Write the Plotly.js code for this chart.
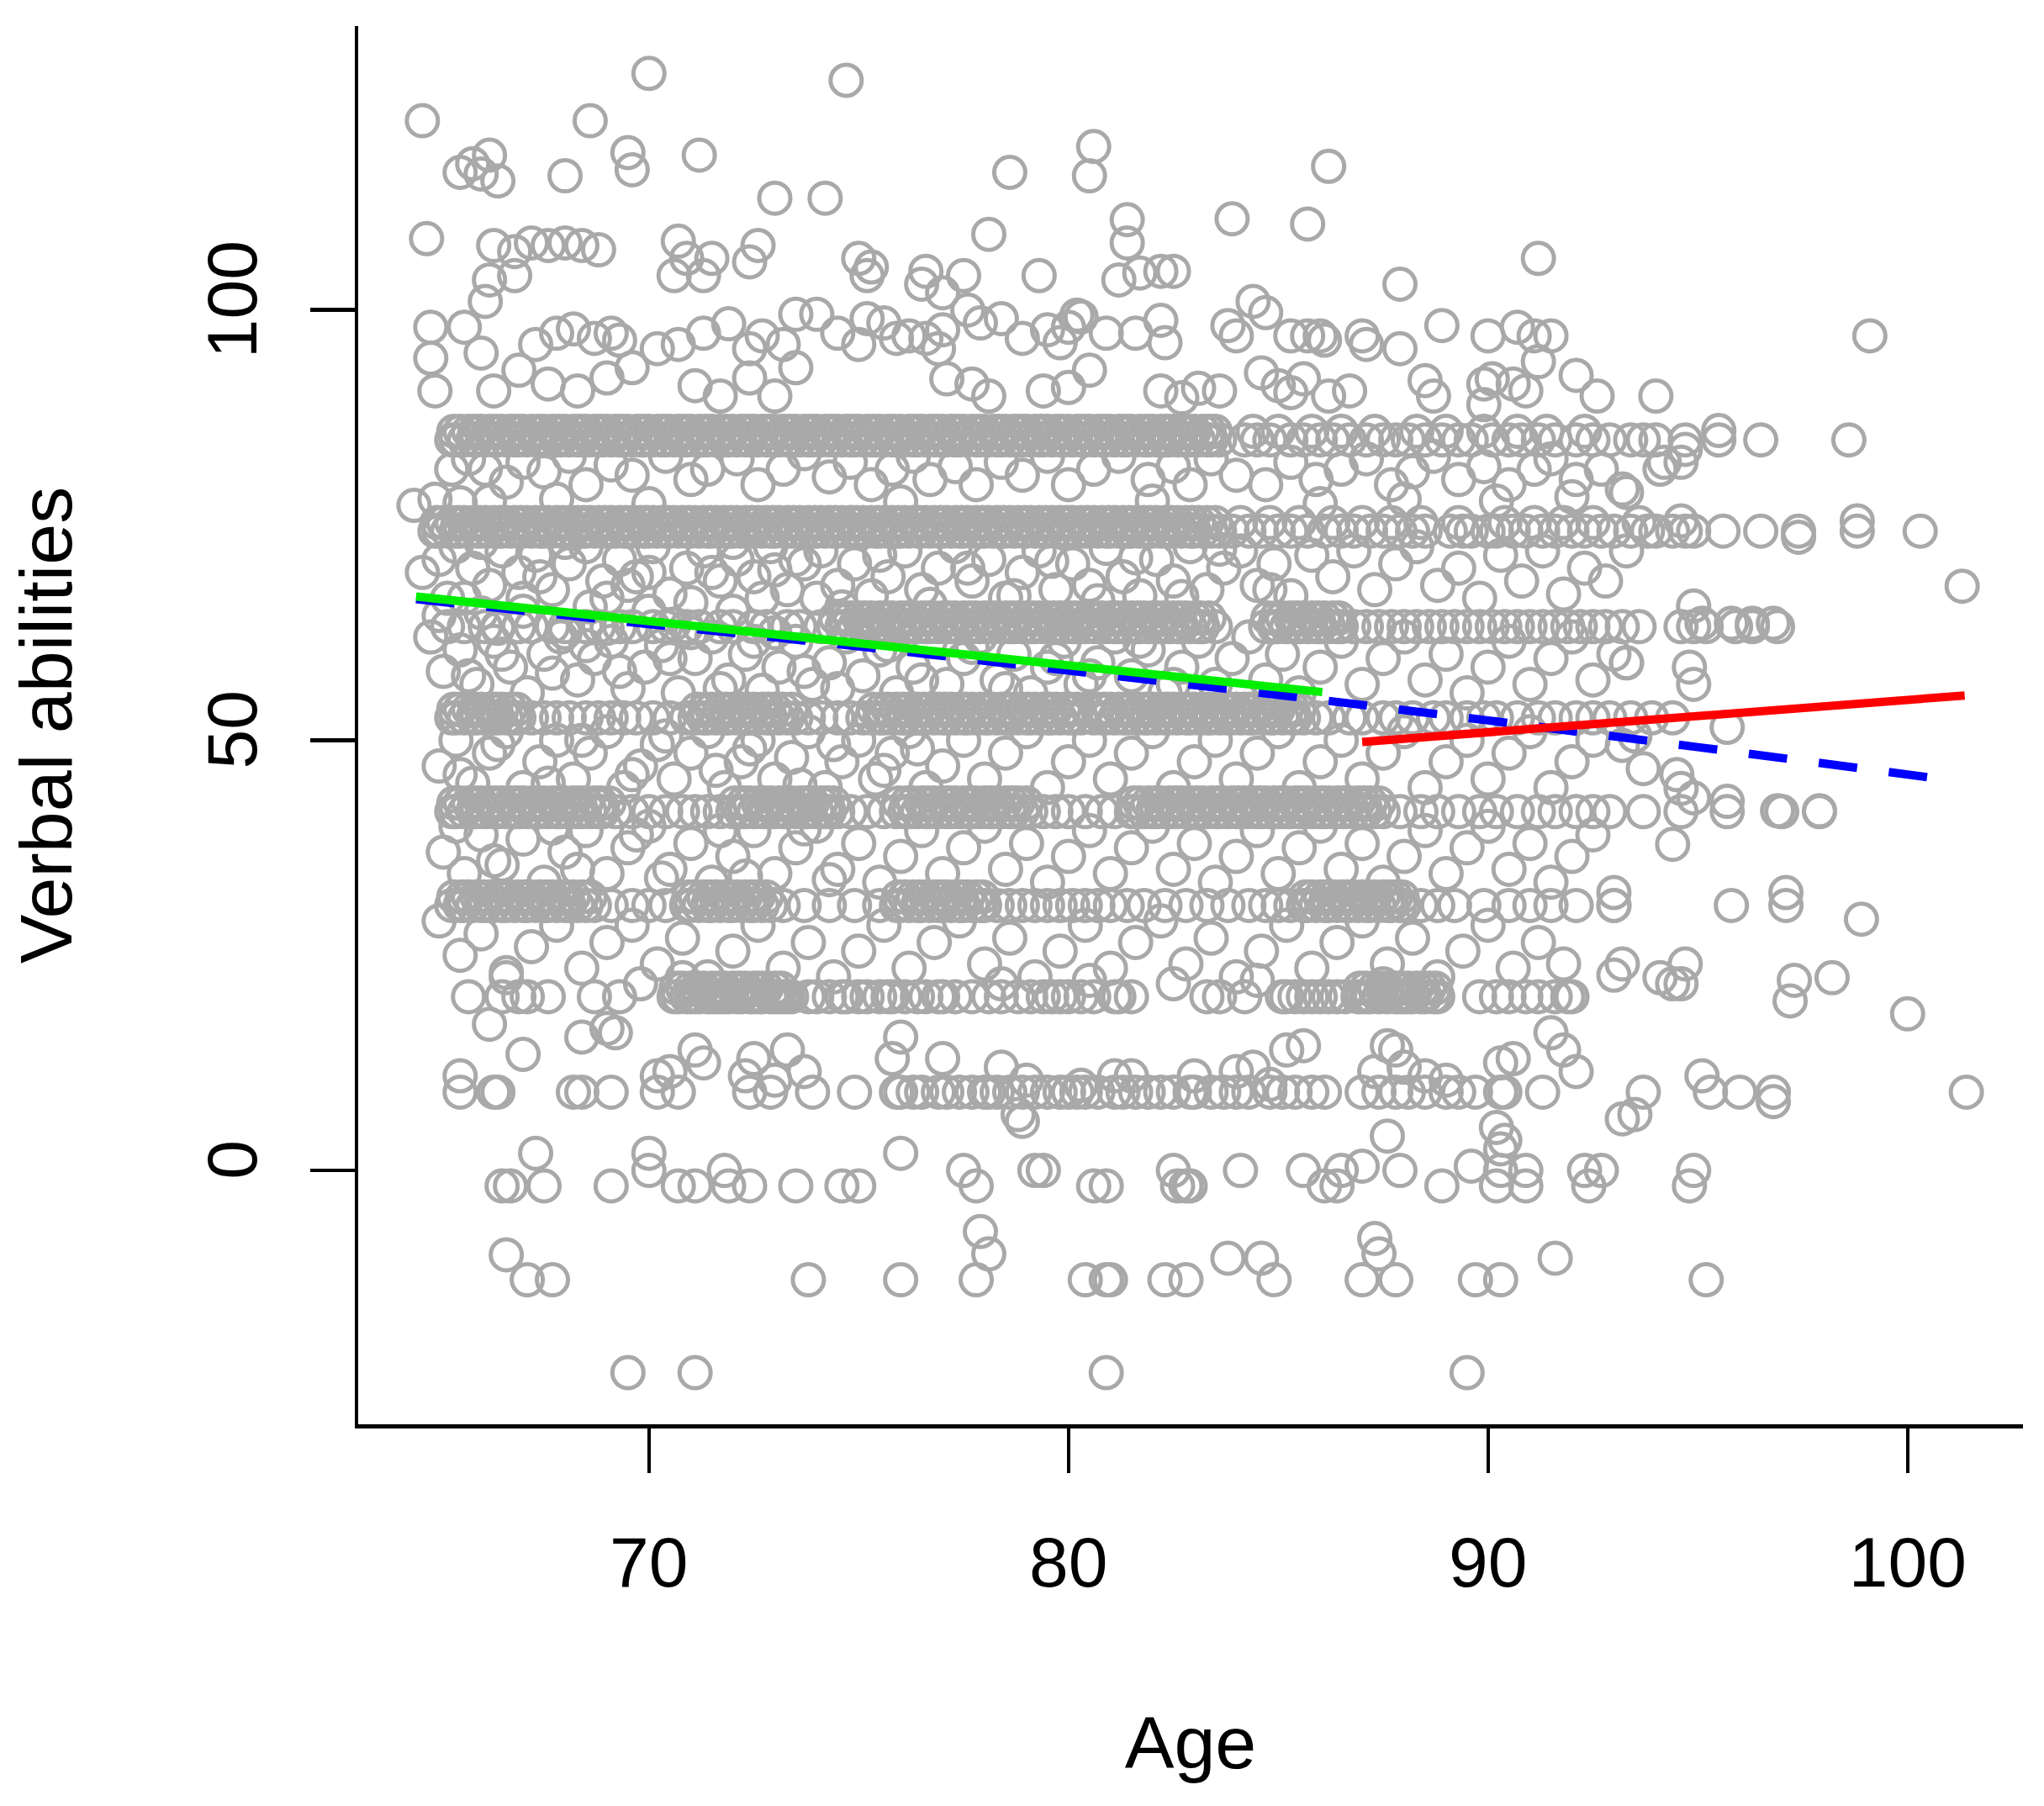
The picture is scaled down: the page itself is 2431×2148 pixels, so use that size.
<!DOCTYPE html>
<html>
<head>
<meta charset="utf-8">
<script src="https://cdn.plot.ly/plotly-3.0.1.min.js"></script>
<style>html,body{margin:0;padding:0;background:#fff;}#chart{width:2431px;height:2148px;}</style>
</head>
<body>
<div id="chart"></div>
<script>
// ---- data ----
const xTickVals = [70, 80, 90, 100];
const yTickVals = [0, 50, 100];

// score levels where many observations line up
const bandScores = [84.9, 74.3, 63.2, 52.6, 41.7, 30.8, 20.2, 9.1, -1.8, -12.7, -23.5];
// the crowded levels are about one point thick: a second, slightly higher sub-level
const bandUpperScores = [85.9, 75.3, 64.2, 53.6, 42.7, 31.8, 21.2];

const band85Ages = [65.3,65.4,65.6,65.8,65.9,66.1,66.3,66.4,66.6,66.8,66.9,67.1,67.3,67.4,67.6,67.8,67.9,68.1,68.3,68.4,68.6,68.8,68.9,69.1,69.3,69.4,69.6,69.8,69.9,70.1,70.3,70.4,70.6,70.8,70.9,71.1,71.3,71.4,71.6,71.8,71.9,72.1,72.3,72.4,72.6,72.8,72.9,73.1,73.3,73.4,73.6,73.8,73.9,74.1,74.3,74.4,74.6,74.8,74.9,75.1,75.3,75.4,75.6,75.8,75.9,76.1,76.3,76.4,76.6,76.8,76.9,77.1,77.3,77.4,77.6,77.8,77.9,78.1,78.3,78.4,78.6,78.8,78.9,79.1,79.3,79.4,79.6,79.8,79.9,80.1,80.3,80.4,80.6,80.8,80.9,81.1,81.3,81.4,81.6,81.8,81.9,82.1,82.3,82.4,82.6,82.8,82.9,83.1,83.3,83.4,83.6,
  84.2,84.5,84.8,85.3,85.6,86.0,86.3,86.7,87.1,87.5,87.8,88.1,88.5,88.9,89.3,89.6,90.1,90.5,90.8,91.2,91.6,92.1,92.5,92.9,93.4,93.7,94.0,94.7,95.5,96.5,98.6];
const band85UpperAges = [65.35,65.5,65.7,65.85,66.0,66.2,66.35,66.5,66.7,66.85,67.0,67.2,67.35,67.5,67.7,67.85,68.0,68.2,68.35,68.5,68.7,68.85,69.0,69.2,69.35,69.5,69.7,69.85,70.0,70.2,70.35,70.5,70.7,70.85,71.0,71.2,71.35,71.5,71.7,71.85,72.0,72.2,72.35,72.5,72.7,72.85,73.0,73.2,73.35,73.5,73.7,73.85,74.0,74.2,74.35,74.5,74.7,74.85,75.0,75.2,75.35,75.5,75.7,75.85,76.0,76.2,76.35,76.5,76.7,76.85,77.0,77.2,77.35,77.5,77.7,77.85,78.0,78.2,78.35,78.5,78.7,78.85,79.0,79.2,79.35,79.5,79.7,79.85,80.0,80.2,80.35,80.5,80.7,80.85,81.0,81.2,81.35,81.5,81.7,81.85,82.0,82.2,82.35,82.5,82.7,82.85,83.0,83.2,83.35,83.5,
  84.4,85.0,85.8,86.5,87.3,88.3,89.0,89.9,90.7,91.4,92.3];
const band75Ages = [64.9,65.0,65.2,65.4,65.5,65.7,65.9,66.0,66.2,66.4,66.5,66.7,66.9,67.0,67.2,67.4,67.5,67.7,67.9,68.0,68.2,68.4,68.5,68.7,68.9,69.0,69.2,69.4,69.5,69.7,69.9,70.0,70.2,70.4,70.5,70.7,70.9,71.0,71.2,71.4,71.5,71.7,71.9,72.0,72.2,72.4,72.5,72.7,72.9,73.0,73.2,73.4,73.5,73.7,73.9,74.0,74.2,74.4,74.5,74.7,74.9,75.0,75.2,75.4,75.5,75.7,75.9,76.0,76.2,76.4,76.5,76.7,76.9,77.0,77.2,77.4,77.5,77.7,77.9,78.0,78.2,78.4,78.5,78.7,78.9,79.0,79.2,79.4,79.5,79.7,79.9,80.0,80.2,80.4,80.5,80.7,80.9,81.0,81.2,81.4,81.5,81.7,81.9,82.0,82.2,82.4,82.5,82.7,82.9,83.0,83.2,83.4,83.6,
  83.9,84.3,84.6,85.0,85.3,85.7,86.1,86.5,86.8,87.2,87.5,87.9,88.2,88.5,89.1,89.4,89.6,90.0,90.2,90.6,90.9,91.3,91.6,92.0,92.3,92.7,93.0,93.4,93.8,94.0,94.4,94.7,94.9,95.6,96.5,97.4,98.8,100.3];
const band75UpperAges = [64.95,65.1,65.3,65.45,65.6,65.8,65.95,66.1,66.3,66.45,66.6,66.8,66.95,67.1,67.3,67.45,67.6,67.8,67.95,68.1,68.3,68.45,68.6,68.8,68.95,69.1,69.3,69.45,69.6,69.8,69.95,70.1,70.3,70.45,70.6,70.8,70.95,71.1,71.3,71.45,71.6,71.8,71.95,72.1,72.3,72.45,72.6,72.8,72.95,73.1,73.3,73.45,73.6,73.8,73.95,74.1,74.3,74.45,74.6,74.8,74.95,75.1,75.3,75.45,75.6,75.8,75.95,76.1,76.3,76.45,76.6,76.8,76.95,77.1,77.3,77.45,77.6,77.8,77.95,78.1,78.3,78.45,78.6,78.8,78.95,79.1,79.3,79.45,79.6,79.8,79.95,80.1,80.3,80.45,80.6,80.8,80.95,81.1,81.3,81.45,81.6,81.8,81.95,82.1,82.3,82.45,82.6,82.8,82.95,83.1,83.3,83.5,
  84.1,84.8,85.5,86.3,87.0,87.7,88.4,89.3,90.4,91.1,91.8,92.5,93.6];
const band64Ages = [65.2,65.6,66.1,66.4,66.9,67.2,67.7,68.0,68.5,68.8,69.3,69.6,70.1,70.4,70.9,71.2,71.7,72.0,72.5,72.8,73.3,73.6,74.1,
  74.4,74.6,74.7,74.9,75.1,75.2,75.4,75.6,75.7,75.9,76.1,76.2,76.4,76.6,76.7,76.9,77.1,77.2,77.4,77.6,77.7,77.9,78.1,78.2,78.4,78.6,78.7,78.9,79.1,79.2,79.4,79.6,79.7,79.9,80.1,80.2,80.4,80.6,80.7,80.9,81.1,81.2,81.4,81.6,81.7,81.9,82.1,82.2,82.4,82.6,82.7,82.9,83.1,83.2,83.5,
  84.7,84.9,85.0,85.2,85.4,85.5,85.7,85.9,86.0,86.2,86.4,86.5,86.8,87.1,87.4,87.7,88.0,88.3,88.6,88.9,89.2,89.5,89.8,90.1,90.4,90.7,91.0,91.3,91.6,91.9,92.2,92.5,92.8,93.2,93.6,94.6,94.9,95.2,95.9,96.3,96.9];
const band64UpperAges = [74.45,74.65,74.8,75.0,75.15,75.3,75.5,75.65,75.8,76.0,76.15,76.3,76.5,76.65,76.8,77.0,77.15,77.3,77.5,77.65,77.8,78.0,78.15,78.3,78.5,78.65,78.8,79.0,79.15,79.3,79.5,79.65,79.8,80.0,80.15,80.3,80.5,80.65,80.8,81.0,81.15,81.3,81.5,81.65,81.8,82.0,82.15,82.3,82.5,82.65,82.8,83.0,83.15,83.35,
  84.75,84.95,85.1,85.3,85.45,85.6,85.8,85.95,86.1,86.3,86.45];
const band53Ages = [65.3,65.4,65.6,65.8,65.9,66.1,66.3,66.4,66.6,66.8,66.9,67.2,67.5,67.8,68.1,68.5,68.8,69.1,69.4,69.7,70.1,70.5,70.9,
  71.1,71.3,71.4,71.6,71.8,71.9,72.1,72.3,72.4,72.6,72.8,72.9,73.1,73.3,73.5,73.8,74.1,74.5,74.8,75.1,
  75.3,75.5,75.6,75.8,76.0,76.1,76.3,76.5,76.6,76.8,77.0,77.1,77.3,77.5,77.6,77.8,78.0,78.1,78.3,78.5,78.6,78.8,79.0,79.1,79.3,79.5,79.6,79.8,80.0,80.1,80.3,80.6,80.8,80.9,81.1,81.3,81.4,81.6,81.8,81.9,82.1,82.3,82.4,82.6,82.8,82.9,83.1,83.3,83.4,83.6,83.8,83.9,84.1,84.3,84.4,84.6,84.8,84.9,85.1,85.3,85.4,85.6,
  85.9,86.2,86.7,87.0,87.5,87.8,88.2,88.7,89.0,89.5,89.9,90.2,90.7,91.2,91.6,92.1,92.5,92.9,93.4,93.9,94.4];
const band53UpperAges = [65.35,65.5,65.7,65.85,66.0,66.2,66.35,66.5,66.7,66.85,
  71.15,71.35,71.5,71.7,71.85,72.0,72.2,72.35,72.5,72.7,72.85,73.0,73.2,73.4,
  75.35,75.55,75.7,75.9,76.05,76.2,76.4,76.55,76.7,76.9,77.05,77.2,77.4,77.55,77.7,77.9,78.05,78.2,78.4,78.55,78.7,78.9,79.05,79.2,79.4,79.55,79.7,79.9,80.05,80.2,80.45,80.7,80.85,81.0,81.2,81.35,81.5,81.7,81.85,82.0,82.2,82.35,82.5,82.7,82.85,83.0,83.2,83.35,83.5,83.7,83.85,84.0,84.2,84.35,84.5,84.7,84.85,85.0,85.2,85.35,85.5];
const band42Ages = [65.3,65.4,65.6,65.8,65.9,66.1,66.3,66.4,66.6,66.8,66.9,67.1,67.3,67.4,67.6,67.8,67.9,68.1,68.3,68.4,68.6,68.8,68.9,69.2,
  69.6,70.0,70.4,70.8,71.1,71.4,71.7,72.0,72.2,72.3,72.5,72.7,72.8,73.0,73.2,73.3,73.5,73.7,73.8,74.0,74.2,74.3,74.5,74.8,75.2,75.6,
  75.9,76.1,76.2,76.4,76.6,76.7,76.9,77.1,77.2,77.4,77.6,77.7,77.9,78.1,78.2,78.4,78.6,78.7,78.9,79.1,79.4,79.7,80.0,80.4,80.8,81.1,
  81.5,81.6,81.8,82.0,82.1,82.3,82.5,82.6,82.8,83.0,83.1,83.3,83.5,83.6,83.8,84.0,84.1,84.3,84.5,84.6,84.8,85.0,85.1,85.3,85.5,85.6,85.8,86.0,86.1,86.3,86.5,86.6,86.8,87.0,87.1,87.3,87.5,
  87.9,88.4,88.8,89.3,89.8,90.2,90.7,91.2,91.6,92.1,92.5,92.9,93.7,94.6,95.7,97.0,97.9];
const band42UpperAges = [65.35,65.5,65.7,65.85,66.0,66.2,66.35,66.5,66.7,66.85,67.0,67.2,67.35,67.5,67.7,67.85,68.0,68.2,68.35,68.5,68.7,68.85,69.05,
  72.05,72.25,72.4,72.6,72.75,72.9,73.1,73.25,73.4,73.6,73.75,73.9,74.1,74.25,74.4,
  75.95,76.15,76.3,76.5,76.65,76.8,77.0,77.15,77.3,77.5,77.65,77.8,78.0,78.15,78.3,78.5,78.65,78.8,79.0,
  81.55,81.7,81.9,82.05,82.2,82.4,82.55,82.7,82.9,83.05,83.2,83.4,83.55,83.7,83.9,84.05,84.2,84.4,84.55,84.7,84.9,85.05,85.2,85.4,85.55,85.7,85.9,86.05,86.2,86.4,86.55,86.7,86.9,87.05,87.2,87.4];
const band31Ages = [65.3,65.5,65.6,65.8,66.0,66.1,66.3,66.5,66.6,66.8,67.0,67.1,67.3,67.5,67.6,67.8,68.0,68.1,68.3,68.5,68.7,69.1,
  69.6,70.0,70.4,70.9,71.0,71.2,71.4,71.5,71.7,71.9,72.0,72.2,72.4,72.5,72.7,72.9,73.2,73.7,74.3,74.9,75.5,
  75.9,76.0,76.2,76.4,76.5,76.7,76.9,77.0,77.2,77.4,77.5,77.7,77.9,78.0,78.3,78.6,78.9,79.2,79.5,79.8,80.1,80.4,80.7,81.0,81.4,81.8,82.3,82.8,83.3,83.8,84.3,84.7,85.0,85.3,
  85.6,85.7,85.9,86.1,86.2,86.4,86.6,86.7,86.9,87.1,87.2,87.4,87.6,87.7,87.9,88.0,88.4,88.8,89.2,
  89.9,90.5,91.0,91.5,92.1,93.0,95.8,97.1];
const band31UpperAges = [65.35,65.55,65.7,65.9,66.05,66.2,66.4,66.55,66.7,66.9,67.05,67.2,67.4,67.55,67.7,67.9,68.05,68.2,68.4,68.6,
  70.95,71.1,71.3,71.45,71.6,71.8,71.95,72.1,72.3,72.45,72.6,72.8,
  75.95,76.1,76.3,76.45,76.6,76.8,76.95,77.1,77.3,77.45,77.6,77.8,77.95,
  85.65,85.8,86.0,86.15,86.3,86.5,86.65,86.8,87.0,87.15,87.3,87.5,87.65,87.8,87.95];
const band20Ages = [65.7,66.5,66.9,67.1,67.6,68.7,69.3,70.6,70.7,70.9,71.0,71.1,71.2,71.4,71.5,71.6,71.7,71.8,71.9,72.1,72.2,72.4,72.5,72.6,72.7,72.9,73.0,73.1,73.2,73.3,73.4,73.8,74.0,74.3,74.6,74.7,75.0,75.2,75.5,75.7,75.8,76.1,76.4,76.6,76.9,77.0,77.3,77.7,78.1,78.4,78.8,79.1,79.4,79.6,79.8,80.0,80.3,80.6,81.1,81.2,81.5,83.3,83.6,84.2,85.1,85.2,85.4,85.6,85.8,86.0,86.2,86.4,86.6,86.9,87.0,87.1,87.2,87.4,87.6,87.8,87.9,88.0,88.1,88.2,88.4,88.5,88.7,88.8,89.8,90.2,90.5,90.9,91.2,91.6,91.9,92.0];
const band20UpperAges = [70.65,70.8,71.0,71.15,71.3,71.5,71.65,71.8,72.0,72.15,72.3,72.5,72.65,72.8,73.0,73.15,
  86.95,87.1,87.3,87.45,87.6,87.8,87.95,88.1,88.3,88.45,88.6,88.75];
const band9Ages = [65.5,66.3,66.4,68.2,68.4,69.1,70.2,70.7,72.4,72.9,73.9,74.9,75.9,76.0,76.3,76.5,76.9,77.1,77.4,77.7,78.0,78.1,78.3,78.6,78.9,79.2,79.5,79.8,80.0,80.2,80.4,80.7,81.1,81.3,81.6,81.9,82.2,82.5,82.9,83.0,83.4,83.7,84.0,84.3,84.8,85.1,85.4,85.8,86.1,87.0,87.4,87.8,88.1,88.5,89.0,89.3,89.7,90.3,90.4,91.3,93.7,95.3,96.0,96.8,101.4];
const bandM2Ages = [66.5,66.7,67.5,69.1,70.7,71.1,71.9,72.4,73.5,74.6,75.0,77.8,80.6,80.9,82.6,82.8,82.9,86.1,86.4,88.9,90.2,90.9,92.4,94.8];
const bandM13Ages = [67.1,67.7,73.8,76.0,77.8,80.4,80.9,81.0,82.3,82.8,84.9,87.0,87.8,89.7,90.3,95.2];
const bandM23Ages = [69.5,71.1,80.9,89.5];

// observations that are not on one of the levels: [age, score]
const offBandPoints = [
 [64.6,122],[70.0,127.5],[74.7,126.7],[68.6,122],[64.7,108.3],[80.6,119],[80.5,115.6],[65.8,117],[66.0,115.8],[66.4,115],[65.5,116],[66.2,118],[68.0,115.6],[71.2,118],[69.5,118.3],[69.6,116.3],[73.0,113],[74.2,113],[78.6,116],[83.9,110.6],[85.7,110],[86.2,116.7],[91.2,106],[81.4,110.5],[81.4,107.8],[81.2,103.5],[81.7,104.3],[82.2,104.5],[82.5,104.5],[87.9,103],[79.3,104],[99.1,97],
 [66.3,107.5],[66.8,106.8],[67.2,107.8],[67.6,107.5],[68.0,107.8],[68.4,107.5],[68.8,107],[66.2,103.5],[66.8,104],[66.1,101],[70.7,108],[70.9,106],[70.6,104],[71.3,104],[71.5,106],[72.6,107.5],[72.4,105.6],[75.0,106],[75.3,105],[75.2,104],[76.5,103],[76.6,104.5],[77.0,102],[77.5,104],[78.1,108.8],[77.6,100],[77.9,98.5],[78.4,99],[78.9,96.7],[80.2,99.4],[80.0,98],[84.4,101],[84.7,99.7],[83.8,98.2],[84.0,97],[85.3,97],[85.7,97],[86.0,97],[86.1,96.5],[87.0,97],[87.1,96],[88.9,98.2],[90.0,97],[90.7,98],[91.1,97],[91.5,97],[89.9,91.4],[90.1,92],[90.6,91.4],[92.1,92.4],[88.5,91.8],[91.2,94],[90.9,90.6],[87.9,95.5],
 [64.8,98],[64.8,94.4],[64.9,90.6],[65.6,98],[66.0,95],[66.3,90.6],[67.3,96],[67.8,97.3],[68.2,97.8],[68.7,96.7],[69.1,97.3],[69.3,96.5],[66.9,93],[67.6,91.4],[68.3,90.6],[69.0,92.1],[69.6,93.3],[70.2,95.5],[70.7,96],[71.3,97.3],[71.9,98.4],[72.4,95.5],[72.7,97],[73.2,96],[73.5,99.5],[71.1,91.2],[71.7,90],[72.4,92.1],[73.0,90],[73.5,93.3],[74.0,99.5],[74.5,97.3],[75.0,96],[75.2,99],[75.6,98.5],[75.9,96.7],[76.2,97],[76.6,96.7],[76.9,95.5],[77.0,97.7],[77.1,92],[77.7,91.4],[78.1,90],[79.5,97.7],[79.8,96.2],[80.3,99.2],[80.9,97.3],[79.4,90.6],[80.0,91],[80.5,93],[81.6,97.3],[82.2,98.8],[82.3,96.2],[82.2,90.6],[82.7,89.8],[83.1,90.9],[83.6,90.6],[84.6,92.7],[85.0,91.2],[85.3,90.4],[85.6,92],[86.2,90],[86.7,90.6],[88.7,90],[89.9,89],[92.6,90],[94.0,90],
 [65.3,81.5],[65.7,82.7],[66.1,81.5],[66.6,80],[67.0,82.3],[67.5,81.2],[68.1,83],[68.5,79.7],[69.1,82],[69.6,80.8],[70.4,83],[71.0,80.3],[71.4,81.5],[72.1,82.7],[72.6,79.7],[73.2,81.5],[73.7,83.3],[74.3,80.6],[74.8,82.3],[75.3,79.7],[75.8,81.5],[76.3,83],[76.7,80.3],[77.3,81.8],[77.8,79.7],[78.4,82.3],[78.9,80.8],[79.5,83],[80.0,79.7],[80.6,81.5],[81.2,83],[81.9,80.3],[82.5,81.8],[82.9,79.7],[83.4,82.7],[84.0,80.8],[84.7,79.7],[85.3,82.3],[85.9,80.3],[86.5,81.5],[87.1,82.7],[87.7,79.7],[88.2,81.2],[88.7,83],[89.3,80.3],[89.9,81.8],[90.5,79.7],[91.1,81.5],[91.5,82.7],[92.1,80.3],[92.7,81.5],[93.2,79.2],[94.1,81.5],[94.6,82.3],
 [64.4,77.3],[64.9,78],[65.5,77.6],[66.2,77.8],[67.8,78],[70.0,77.5],[76.0,77.7],[82.0,77.8],[86.0,77.5],[88.0,78],[90.2,77.8],[92.0,78.3],
 [64.6,69.5],[65.0,71],[65.4,72.5],[65.8,70],[66.2,68],[66.5,72],[66.9,69.5],[67.3,71.5],[67.7,67.5],[68.1,70.5],[68.5,72.5],[68.9,68.5],[69.3,71],[69.7,69],[70.1,72.5],[70.5,67],[70.9,70],[71.3,72],[71.7,68.5],[72.1,71],[72.5,69],[72.9,72.5],[73.3,67.5],[73.7,70.5],[74.1,72],[74.5,68],[74.9,70.5],[75.3,66.8],[75.7,69],[76.1,72],[76.5,67.5],[76.9,70],[77.3,72.5],[77.7,68.5],[78.1,71],[78.5,66.5],[78.9,69.5],[79.3,72],[79.7,67.5],[80.1,70.5],[80.5,68],[80.9,72.3],[81.3,69],[81.7,66.8],[82.1,71],[82.5,68.5],[82.9,72.5],[83.3,67.5],[83.7,70],[84.1,72],[84.5,68],[84.9,70.5],[85.3,66.8],[85.8,71.5],[86.3,69],[86.8,72],[87.3,67.5],[87.8,70.5],[88.3,72.5],[88.8,68],[89.3,70],[89.8,66.5],[90.3,71.5],[90.8,68.5],[91.3,72],[91.8,67],[92.3,70],[92.8,68.5],[93.3,72],
 [65.2,66.5],[66.0,73],[67.0,66.5],[68.0,73],[69.0,66.5],[70.0,69.5],[71.0,66],[72.0,73],[73.0,69.8],[74.0,66.5],
 [65.6,66.5],[66.4,63],[67.4,69],[68.6,65.5],[69.5,68],[70.6,63.5],[71.5,69.5],[72.7,66.5],[73.5,71],[74.6,65.5],[75.5,71.5],[76.7,65.8],[77.6,70],[78.7,66.8],[79.6,70.8],[80.7,66.2],[81.6,71.2],[82.7,66.7],[83.6,72.2],[84.8,67.5],
 [64.8,62],[65.1,58],[65.5,60.5],[65.9,56.5],[66.3,61.5],[66.7,58.5],[67.1,55.5],[67.5,60],[67.9,62],[68.3,57],[68.7,59.5],[69.1,61.5],[69.5,56],[69.9,58.5],[70.3,61],[70.7,55.5],[71.1,59.5],[71.5,62],[71.9,57],[72.3,60],[72.7,55.8],[73.1,58.5],[73.5,61.5],[73.9,56.5],[74.3,59],[74.7,62],[75.1,57.5],[75.5,60.5],[75.9,55.5],[76.3,58.5],[76.7,61.5],[77.1,56.5],[77.5,59.5],[77.9,62],[78.3,57],[78.7,60],[79.1,55.5],[79.5,58.5],[79.9,61.5],[80.3,56.5],[80.7,59],[81.1,62],[81.5,57.5],[81.9,60.5],[82.3,55.5],[82.7,58.5],[83.1,61.5],[83.5,56.5],[83.9,59.5],[84.3,62],[84.7,57],[85.1,60],[85.5,55.5],[86.0,58.5],[86.5,61.5],[87.0,56.5],[87.5,59.5],[88.0,62],[88.5,57],[89.0,60],[89.5,55.5],[90.0,58.5],[90.5,61.5],[91.0,56.5],[91.5,59.5],[92.0,62],[92.5,57],[93.0,60],[93.3,59],[94.8,58.5],[94.9,56.5],
 [65.0,64.5],[66.0,64.8],[67.0,65],[68.0,62.5],[69.0,63],[70.0,65],[71.0,62.5],[72.0,65],[73.0,62.5],
 [65.7,57.5],[66.5,60],[67.7,57.8],[68.5,61],[69.3,58],[70.5,59.5],[71.7,56],[72.5,61.5],[73.7,58],[74.5,56],[75.7,61],[76.5,57],[77.7,60.8],[78.5,56],[79.7,59.5],[80.5,57.5],[81.7,61.5],[82.5,56.5],
 [65.0,47],[65.4,50],[65.8,45],[66.2,48.5],[66.6,51],[67.0,44.5],[67.4,47.5],[67.8,50],[68.2,45.5],[68.6,48.5],[69.0,51],[69.4,44.5],[69.8,47],[70.2,49.5],[70.6,45.5],[71.0,48.5],[71.4,51],[71.8,44.5],[72.2,47.5],[72.6,50],[73.0,45.5],[73.4,48],[73.8,51],[74.2,44.5],[74.6,47.5],[75.0,50],[75.4,45.5],[75.8,48.5],[76.2,51],[76.6,44.5],[77.0,47],[77.5,50],[78.0,45.5],[78.5,48.5],[79.0,51],[79.5,44.5],[80.0,47.5],[80.5,50],[81.0,45.5],[81.5,48.5],[82.0,51],[82.5,44.5],[83.0,47.5],[83.5,50],[84.0,45.5],[84.5,48.5],[85.0,51],[85.5,44.5],[86.0,47.5],[86.5,50],[87.0,45.5],[87.5,48.5],[88.0,51],[88.5,44.5],[89.0,47.5],[89.5,50],[90.0,45.5],[90.5,48.5],[91.0,51],[91.5,44.5],[92.0,47.5],[92.5,50],[93.2,49.4],[93.5,50.5],[93.7,46.7],[94.5,46],[94.6,44.4],[95.7,51.5],
 [65.5,46],[66.4,49.5],[67.6,45],[68.4,50],[69.6,46],[70.4,50.5],[71.6,46.5],[72.4,49],[73.6,44.8],[74.4,49.5],[75.6,46.5],[76.4,49],
 [65.1,37],[65.6,34.5],[66.0,39],[66.5,35.5],[67.0,38.5],[67.5,33.5],[68.0,37],[68.5,39.5],[69.0,34.5],[69.5,37.5],[70.0,40],[70.5,35],[71.0,38],[71.5,33.5],[72.0,36.5],[72.5,39.5],[73.0,34.5],[73.5,37.5],[74.0,40],[74.5,35],[75.0,38],[75.5,33.5],[76.0,36.5],[76.5,39.5],[77.0,34.5],[77.5,37.5],[78.0,40],[78.5,35],[79.0,38],[79.5,33.5],[80.0,36.5],[80.5,39.5],[81.0,34.5],[81.5,37.5],[82.0,40],[82.5,35],[83.0,38],[83.5,33.5],[84.0,36.5],[84.5,39.5],[85.0,34.5],[85.5,37.5],[86.0,40],[86.5,35],[87.0,38],[87.5,33.5],[88.0,36.5],[88.5,39.5],[89.0,34.5],[89.5,37.5],[90.0,40],[90.5,35],[91.0,38],[91.5,33.5],[92.0,36.5],[92.5,39],[93.0,32.3],[93.0,30.8],[94.4,37.9],[97.1,32.3],
 [65.4,40],[66.3,36],[67.7,39.8],[68.3,35],[69.7,39],[70.3,34],[71.7,39.5],[72.3,34.2],[73.7,39.7],[74.3,33.8],
 [65.0,29],[65.5,25],[66.0,27.5],[66.6,23],[67.2,26],[67.8,28.5],[68.4,23.5],[69.0,26.5],[69.6,28.5],[70.2,24],[70.8,27],[71.4,22.5],[72.0,25.5],[72.6,28.5],[73.2,23.5],[73.8,26.5],[74.4,22.5],[75.0,25.5],[75.6,28.5],[76.2,23.5],[76.8,26.5],[77.4,29],[78.0,24],[78.6,27],[79.2,22.5],[79.8,25.5],[80.4,28.5],[81.0,23.5],[81.6,26.5],[82.2,29],[82.8,24],[83.4,27],[84.0,22.5],[84.6,25.5],[85.2,28.5],[85.8,23.5],[86.4,26.5],[87.0,29],[87.6,24],[88.2,27],[88.8,22.5],[89.4,25.5],[90.0,28.5],[90.6,23.5],[91.2,26.5],[91.8,24],[93.2,24],[93.0,22.7],[94.7,24],[94.6,21.7],[98.9,29.2],[97.3,22.1],[98.2,22.4],
 [66.6,22.4],[69.8,21.7],[70.8,22.4],[78.4,21.7],[80.5,22.1],[82.5,21.7],[84.5,22.1],[87.5,21.7],[94.1,22.4],[94.4,21.7],
 [65.5,11],[66.2,17],[67.0,13.5],[68.4,15.5],[69.0,16.5],[69.2,16],[70.2,11],[70.5,11.5],[71.1,14],[71.3,12.5],[72.3,11],[72.5,13],[73.0,10.5],[73.3,14],[73.7,11.5],[75.8,13],[76.0,15.5],[77.0,13],[78.4,12],[79.0,10.5],[80.3,9.9],[81.1,11],[81.5,11],[83.0,11],[84.0,11.5],[84.4,12],[84.8,10],[85.2,14],[85.6,14.5],[87.3,11.5],[87.6,14.5],[87.8,14],[88.0,12],[88.5,11],[89.0,10.5],[90.3,12.5],[90.6,13],[91.8,14],[92.1,11.5],[91.5,16],[95.1,11],
 [67.3,2],[70.0,2],[76.0,2],[78.8,6.5],[78.9,5.7],[87.6,4],[90.2,5],[90.4,3.5],[90.3,2.5],[93.5,6.5],[93.2,6],[96.8,8],[89.6,0.5],[87.0,0.5],
 [70.0,0],[71.8,0],[77.5,0],[79.2,0],[79.4,0],[82.5,0],[84.1,0],[85.6,0],[86.5,0],[87.9,0],[90.3,0],[90.9,0],[92.3,0],[92.7,0],[94.9,0],
 [77.9,-7.1],[78.1,-9.7],[87.3,-7.9],[87.4,-9.7],[84.6,-10.2],[66.6,-9.8],[83.8,-10.2],[91.6,-10.2],
 [101.3,67.9],[100.0,18.2],[98.8,75.5],[97.9,41.8],[97.4,73.6],[97.2,19.7],[96.9,41.8],[96.8,63.6],[96.3,63.6],[95.8,63.6],[95.7,42.9],[95.5,86],[94.9,65.6],[95.1,63.6],[94.6,75.5],[94.7,83.8],[94.9,43.3],[94.2,82.3],[93.3,78.8],[93.3,59]
];

// fitted curves
const greenAge = [64.45, 86.05];
const greenScore = [66.7, 55.6];
const blueAge = [64.45, 70, 75, 80, 85.3, 90, 95, 100.96];
const blueScore = [66.4, 63.5, 60.9, 58.1, 55.1, 52.3, 49.2, 45.4];
const redAge = [87.0, 101.36];
const redScore = [49.8, 55.2];

// ---- build the traces ----
const bandAges = [band85Ages, band75Ages, band64Ages, band53Ages, band42Ages, band31Ages, band20Ages, band9Ages, bandM2Ages, bandM13Ages, bandM23Ages];
const bandUpperAges = [band85UpperAges, band75UpperAges, band64UpperAges, band53UpperAges, band42UpperAges, band31UpperAges, band20UpperAges];
const ptX = [], ptY = [];
bandAges.forEach((arr, i) => arr.forEach(a => { ptX.push(a); ptY.push(bandScores[i]); }));
bandUpperAges.forEach((arr, i) => arr.forEach(a => { ptX.push(a); ptY.push(bandUpperScores[i]); }));
offBandPoints.forEach(p => { ptX.push(p[0]); ptY.push(p[1]); });

const FONT = 'Liberation Sans, Arial, Helvetica, sans-serif';

const traces = [
  { type: 'scatter', mode: 'markers', x: ptX, y: ptY, hoverinfo: 'skip',
    marker: { symbol: 'circle-open', size: 37, color: '#a9a9a9', line: { width: 5, color: '#a9a9a9' } } },
  { type: 'scatter', mode: 'lines', x: blueAge, y: blueScore, hoverinfo: 'skip',
    line: { color: '#0000ff', width: 10, dash: '46px,38px', shape: 'spline' } },
  { type: 'scatter', mode: 'lines', x: greenAge, y: greenScore, hoverinfo: 'skip',
    line: { color: '#00ee00', width: 10 } },
  { type: 'scatter', mode: 'lines', x: redAge, y: redScore, hoverinfo: 'skip',
    line: { color: '#ff0000', width: 10 } }
];

const layout = {
  width: 2431, height: 2148,
  margin: { l: 426, r: 25, t: 31, b: 454, autoexpand: false },
  paper_bgcolor: '#ffffff', plot_bgcolor: '#ffffff',
  showlegend: false,
  font: { family: FONT, color: '#000000' },
  xaxis: {
    range: [63.07, 102.75], tickvals: xTickVals, ticktext: xTickVals.map(String),
    ticks: 'outside', ticklen: 53, tickwidth: 4.5, tickcolor: '#000',
    showline: true, linewidth: 4.5, linecolor: '#000', mirror: false,
    showgrid: false, zeroline: false, automargin: false,
    tickfont: { size: 84, family: FONT, color: '#000' }, ticklabelstandoff: 35,
    title: { text: 'Age', font: { size: 88, family: FONT, color: '#000' }, standoff: 138 }
  },
  yaxis: {
    range: [-29.5, 133.0], tickvals: yTickVals, ticktext: yTickVals.map(String),
    ticks: 'outside', ticklen: 53, tickwidth: 4.5, tickcolor: '#000', tickangle: -90,
    showline: true, linewidth: 4.5, linecolor: '#000', mirror: false,
    showgrid: false, zeroline: false, automargin: false,
    tickfont: { size: 84, family: FONT, color: '#000' }, ticklabelstandoff: 30,
    title: { text: 'Verbal abilities', font: { size: 88, family: FONT, color: '#000' }, standoff: 115 }
  }
};

Plotly.newPlot('chart', traces, layout, { displayModeBar: false, staticPlot: true });
</script>
</body>
</html>
